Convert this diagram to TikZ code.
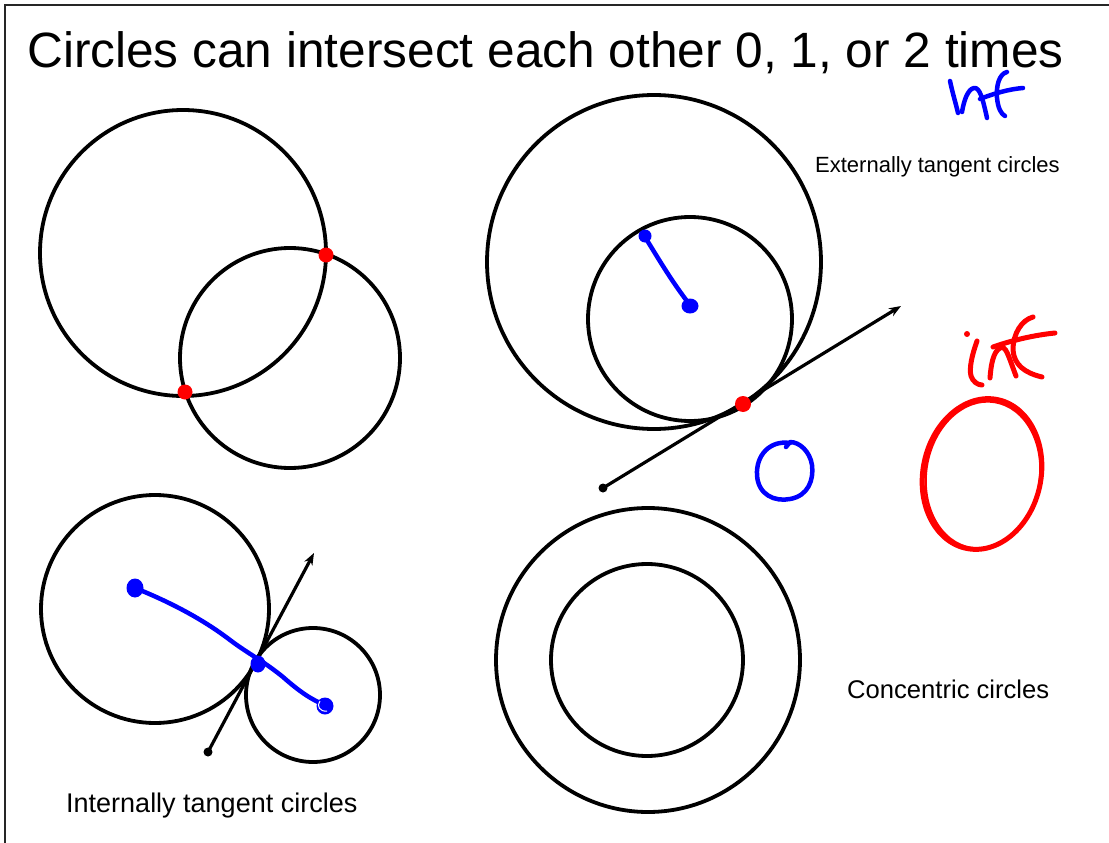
\documentclass[tikz,border=0pt]{standalone}
\usepackage{fontspec}
\setmainfont{Liberation Sans}
\usetikzlibrary{arrows.meta}
\definecolor{inkblue}{RGB}{0,0,255}
\definecolor{inkred}{RGB}{255,0,0}
\tikzset{
  geo/.style={draw=black,line width=3.8pt},
  tline/.style={draw=black,line width=3.2pt,-{Stealth[length=12pt,width=9pt]}},
  reddot/.style={fill=inkred},
  bluepen/.style={draw=inkblue,line width=4.5pt,line cap=round,line join=round},
  redpen/.style={draw=inkred,line width=5pt,line cap=round,line join=round},
  lbl/.style={anchor=base west,inner sep=0pt,text=black},
  frameline/.style={draw=black!85,line width=2.6pt}
}
\begin{document}
\begin{tikzpicture}[x=1pt,y=-1pt]
\useasboundingbox (0,0) rectangle (1109,843);
\fill[white] (0,0) rectangle (1109,843);
% frame
\coordinate (fb) at (5,845);
\coordinate (fc) at (5,5);
\coordinate (fr) at (1111,5);
\draw[frameline] (fb) -- (fc) -- (fr);
% title
\node[lbl,font=\fontsize{49.6}{59}\selectfont] (title) at (27,68) {Circles can intersect each other 0, 1, or 2 times};
% two intersecting circles
\draw[geo] (183,253) circle (143);
\draw[geo] (290,358) circle (110);
\fill[reddot] (326,255) circle (7.5);
\fill[reddot] (185,392) circle (7.5);
% top right: internally tangent circles
\draw[geo] (654,262) circle (167);
\draw[geo] (690,319) circle (102);
\coordinate (ta) at (603,488);
\coordinate (tb) at (901,306);
\draw[tline] (ta) -- (tb);
\fill (ta) circle (4.5);
\fill[reddot] (743,404) circle (8);
\draw[bluepen] (645,237) .. controls (658,258) and (672,282) .. (690,305);
\fill[inkblue] (645,236) circle (6.5);
\fill[inkblue] (690,306) ellipse (8.5 and 7.5);
\node[lbl,font=\fontsize{22}{26}\selectfont] (ext) at (815,172) {Externally tangent circles};
% blue small circle
\draw[bluepen] (790,443) .. controls (770,440) and (756,455) .. (757,475)
  .. controls (758,495) and (775,502) .. (790,499)
  .. controls (808,496) and (814,480) .. (812,465)
  .. controls (810,452) and (800,442) .. (790,442) -- (786,447);
% blue inf
\draw[bluepen] (950,81) .. controls (953,95) and (956,104) .. (958,113);
\draw[bluepen] (962,112) .. controls (964,100) and (968,89) .. (974,88)
  .. controls (980,87) and (983,100) .. (987,118);
\draw[bluepen] (1007,72) .. controls (999,74) and (996,86) .. (997,98)
  .. controls (998,108) and (1001,114) .. (1005,116);
\draw[bluepen] (980,99) .. controls (995,93) and (1010,89) .. (1023,88);
% red inf
\fill[inkred] (967,334) circle (3);
\draw[redpen] (977,341) .. controls (972,355) and (969,368) .. (971,376)
  .. controls (973,382) and (978,385) .. (982,385);
\draw[redpen] (990,378) .. controls (991,365) and (993,352) .. (1000,348)
  .. controls (1006,345) and (1008,355) .. (1016,376);
\draw[redpen] (1033,317) .. controls (1022,320) and (1013,333) .. (1013,350)
  .. controls (1014,365) and (1025,373) .. (1042,377);
\draw[redpen] (993,347) .. controls (1013,340) and (1035,335) .. (1055,333);
% red ellipse
\draw[redpen,rotate around={-12:(982,474)}] (982,474) ellipse (59 and 76);
\draw[draw=inkred,line width=2.5pt,rotate around={-9:(983,475)}] (983,475) ellipse (57 and 74);
% bottom left: tangent circles
\draw[geo] (155,609) circle (114);
\draw[geo] (313,695) circle (67);
\coordinate (la) at (208,752);
\coordinate (lb) at (314,553);
\draw[tline] (la) -- (lb);
\fill (la) circle (4.5);
\draw[bluepen] (135,588) .. controls (165,600) and (200,617) .. (230,640)
  .. controls (250,655) and (262,660) .. (283,677)
  .. controls (300,692) and (312,700) .. (325,705);
\fill[inkblue] (135,588) ellipse (8.5 and 9.5);
\fill[inkblue] (258,664) ellipse (7.5 and 8.5);
\fill[inkblue] (325,706) circle (8.5);
\draw[draw=white,line width=1pt] (320,701) .. controls (316,706) and (320,712) .. (327,711);
\node[lbl,font=\fontsize{27}{32}\selectfont] (int) at (66,812) {Internally tangent circles};
% concentric
\draw[geo] (648,660) circle (152);
\draw[geo] (647,660) circle (96);
\node[lbl,font=\fontsize{25.6}{30}\selectfont] (conc) at (847,698) {Concentric circles};
\end{tikzpicture}
\end{document}
